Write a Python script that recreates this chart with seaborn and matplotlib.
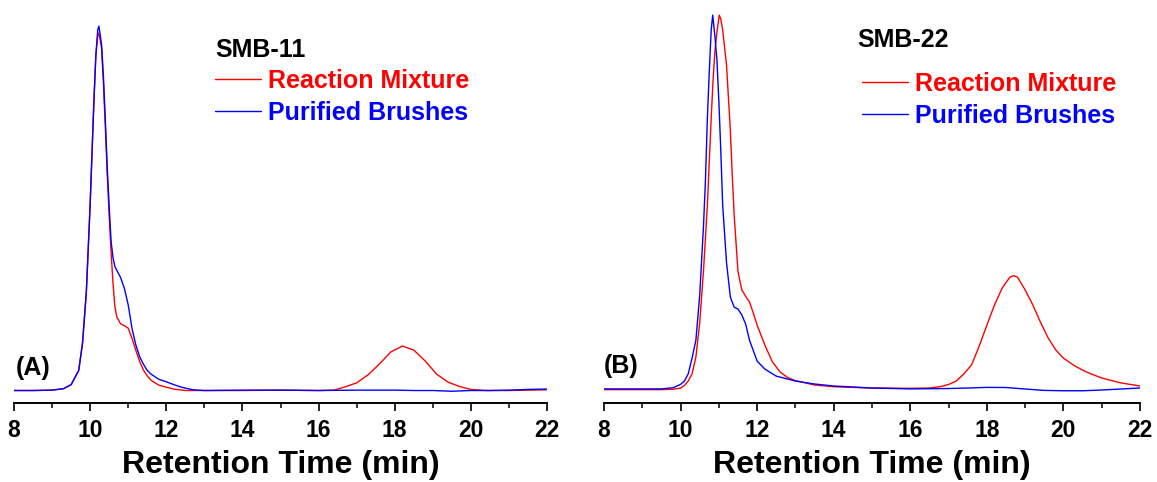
import numpy as np
import pandas as pd
import matplotlib
matplotlib.use("Agg")
import matplotlib.pyplot as plt
from matplotlib.ticker import MultipleLocator
import seaborn as sns

# ---------------- data ----------------
series_names = ["Reaction Mixture", "Purified Brushes"]
series_colors = ["#ff0000", "#0000ff"]
sample_titles = ["SMB-11", "SMB-22"]
panel_tags = ["(A)", "(B)"]
x_ticks = [8, 10, 12, 14, 16, 18, 20, 22]

# Panel A (SMB-11)
a_red_t = [8.0, 8.5, 9.0, 9.3, 9.5, 9.7, 9.8, 9.9, 10.0, 10.05, 10.1, 10.15, 10.2, 10.23,
           10.3, 10.35, 10.4, 10.45, 10.5, 10.55, 10.6, 10.65, 10.7, 10.8, 10.9, 11.0,
           11.1, 11.2, 11.3, 11.4, 11.5, 11.6, 11.8, 12.0, 12.2, 12.5, 13.0, 14.0, 15.0,
           16.0, 16.4, 16.7, 17.0, 17.3, 17.6, 17.9, 18.2, 18.5, 18.8, 19.1, 19.4, 19.7,
           20.0, 20.4, 21.0, 21.5, 22.0]
a_red_v = [0.0, 0.0, 0.1, 0.5, 1.6, 5.5, 13.0, 27.0, 51.0, 65.4, 79.7, 92.0, 97.5, 98.1,
           94.0, 84.0, 72.0, 59.0, 48.0, 38.0, 29.5, 23.0, 20.2, 18.3, 17.8, 17.1,
           14.3, 11.0, 8.0, 5.6, 4.0, 2.8, 1.5, 0.9, 0.4, 0.0, 0.0, 0.0, 0.1,
           0.0, 0.1, 1.0, 2.1, 4.3, 7.3, 10.6, 12.2, 11.1, 8.1, 4.5, 2.3, 1.1,
           0.3, 0.0, 0.0, 0.1, 0.2]
a_blue_t = [8.0, 8.5, 9.0, 9.3, 9.5, 9.7, 9.8, 9.9, 10.0, 10.05, 10.1, 10.15, 10.2, 10.23,
            10.3, 10.35, 10.4, 10.45, 10.5, 10.55, 10.6, 10.65, 10.7, 10.8, 10.9, 11.0,
            11.1, 11.2, 11.3, 11.4, 11.5, 11.6, 11.8, 12.0, 12.2, 12.4, 12.7, 13.0, 14.0,
            15.0, 16.0, 17.0, 18.0, 18.5, 19.0, 19.5, 20.0, 20.5, 21.0, 21.5, 22.0]
a_blue_v = [0.0, 0.0, 0.1, 0.5, 1.6, 5.5, 13.0, 27.0, 51.0, 65.4, 79.7, 92.0, 99.0, 100.0,
            95.0, 86.0, 74.0, 61.0, 50.5, 41.0, 36.5, 34.0, 33.0, 31.0, 28.0, 23.5,
            17.0, 12.5, 9.3, 7.2, 5.5, 4.5, 3.1, 2.4, 1.6, 0.9, 0.2, 0.0, 0.1,
            0.1, 0.0, 0.1, 0.1, 0.0, 0.0, -0.2, 0.0, 0.0, 0.1, 0.3, 0.4]

# Panel B (SMB-22)
b_red_t = [8.0, 9.0, 9.5, 9.8, 10.0, 10.1, 10.2, 10.3, 10.4, 10.5, 10.6, 10.7, 10.75,
           10.8, 10.85, 10.9, 10.95, 11.01, 11.05, 11.1, 11.2, 11.3, 11.35, 11.4, 11.5,
           11.6, 11.7, 11.8, 11.9, 12.0, 12.2, 12.4, 12.6, 12.8, 13.0, 13.5, 14.0, 15.0,
           16.0, 16.5, 16.8, 17.0, 17.2, 17.4, 17.6, 17.8, 18.0, 18.2, 18.4, 18.6, 18.7,
           18.8, 19.0, 19.2, 19.4, 19.6, 19.8, 20.0, 20.3, 20.6, 21.0, 21.5, 22.0]
b_red_v = [0.1, 0.1, 0.1, 0.2, 0.5, 1.2, 2.4, 4.3, 8.8, 18.0, 32.0, 49.3, 61.0,
           72.5, 83.0, 90.7, 95.5, 100.0, 99.0, 96.0, 86.7, 69.3, 57.3, 46.7, 31.5,
           26.7, 25.0, 23.5, 20.5, 17.3, 12.0, 7.5, 4.8, 3.3, 2.5, 1.33, 0.88, 0.53,
           0.45, 0.53, 0.93, 1.47, 2.4, 4.3, 6.7, 11.7, 17.3, 22.7, 27.2, 30.1, 30.5,
           30.1, 26.7, 22.7, 18.1, 13.9, 10.7, 8.5, 6.4, 4.8, 3.2, 1.9, 1.07]
b_blue_t = [8.0, 9.0, 9.5, 9.8, 10.0, 10.1, 10.2, 10.3, 10.4, 10.5, 10.6, 10.65, 10.7,
            10.75, 10.8, 10.84, 10.9, 10.95, 11.0, 11.05, 11.1, 11.2, 11.3, 11.4, 11.5,
            11.6, 11.7, 11.8, 12.0, 12.2, 12.5, 13.0, 13.5, 14.0, 15.0, 16.0, 17.0, 17.5,
            18.0, 18.5, 19.0, 19.5, 20.0, 20.5, 21.0, 21.5, 22.0]
b_blue_v = [0.3, 0.3, 0.3, 0.6, 1.5, 2.4, 4.3, 8.5, 13.3, 25.3, 44.0, 56.0, 72.5,
            85.0, 96.0, 100.0, 94.0, 88.0, 77.0, 64.0, 49.3, 34.0, 24.8, 22.1, 21.6,
            20.0, 17.6, 13.3, 7.7, 5.6, 3.7, 2.4, 1.6, 1.07, 0.53, 0.3, 0.4, 0.53,
            0.7, 0.67, 0.27, -0.1, -0.2, -0.2, 0.0, 0.27, 0.53]


def make_frame(red_t, red_v, blue_t, blue_v):
    return pd.concat([
        pd.DataFrame({"time": red_t, "signal": red_v, "sample": series_names[0]}),
        pd.DataFrame({"time": blue_t, "signal": blue_v, "sample": series_names[1]}),
    ], ignore_index=True)


frames = [make_frame(a_red_t, a_red_v, a_blue_t, a_blue_v),
          make_frame(b_red_t, b_red_v, b_blue_t, b_blue_v)]

# ---------------- style ----------------
sns.set_style("white")
plt.rcParams["font.family"] = ["Liberation Sans", "DejaVu Sans"]
plt.rcParams["font.weight"] = "bold"
plt.rcParams["text.color"] = "black"
plt.rcParams["axes.labelcolor"] = "black"
plt.rcParams["xtick.color"] = "black"
plt.rcParams["xtick.labelcolor"] = "black"
plt.rcParams["lines.solid_joinstyle"] = "round"

W, H = 1157, 482
fig = plt.figure(figsize=(W / 100, H / 100), dpi=100)

# axes geometry in pixels: (left, right) x, axis line y, top y
axes_px = [(14, 547), (604, 1140)]
ylims = [(-3.29, 105.8), (-3.33, 102.7)]
bottom_px, top_px = 402.5, 5
legend_px = [(215, 69), (862, 72)]
title_px = [(215, 50), (857, 40)]
tag_px = [(16, 368), (604, 366)]

palette = dict(zip(series_names, series_colors))

for i, df in enumerate(frames):
    l, r = axes_px[i]
    ax = fig.add_axes([l / W, 1 - bottom_px / H, (r - l) / W, (bottom_px - top_px) / H])
    sns.lineplot(data=df, x="time", y="signal", hue="sample", hue_order=series_names,
                 palette=palette, estimator=None, sort=False, linewidth=1.0, ax=ax)
    ax.set_xlim(8, 22)
    ax.set_ylim(*ylims[i])
    for s in ["top", "left", "right"]:
        ax.spines[s].set_visible(False)
    ax.spines["bottom"].set_color("black")
    ax.spines["bottom"].set_linewidth(1.4)
    ax.set_yticks([])
    ax.set_ylabel("")
    ax.set_xticks(x_ticks)
    ax.xaxis.set_minor_locator(MultipleLocator(1))
    ax.tick_params(axis="x", which="major", direction="out", length=6, width=1.2,
                   color="black", labelcolor="black", labelsize=16.5, pad=6, bottom=True)
    ax.tick_params(axis="x", which="minor", direction="out", length=3.5, width=1.1,
                   color="black", bottom=True)
    for lab in ax.get_xticklabels():
        lab.set_fontweight("bold")
    ax.set_xlabel("Retention Time (min)", fontsize=23, fontweight="bold", labelpad=6,
                  color="black")
    ax.set_facecolor("none")

    handles, labels = ax.get_legend_handles_labels()
    lx, ly = legend_px[i]
    leg = ax.legend(handles, labels, loc="upper left",
                    bbox_to_anchor=(lx / W, 1 - ly / H), bbox_transform=fig.transFigure,
                    frameon=False, handlelength=1.84, handletextpad=0.28,
                    labelspacing=0.32, borderpad=0, borderaxespad=0, labelcolor="linecolor",
                    prop={"weight": "bold", "size": 18})
    tx, ty = title_px[i]
    fig.text(tx / W, 1 - ty / H, sample_titles[i], fontsize=18, fontweight="bold",
             ha="left", va="center", color="black")
    gx, gy = tag_px[i]
    fig.text(gx / W, 1 - gy / H, panel_tags[i], fontsize=18, fontweight="bold",
             ha="left", va="center", color="black")

fig.savefig("out.png", dpi=100)
